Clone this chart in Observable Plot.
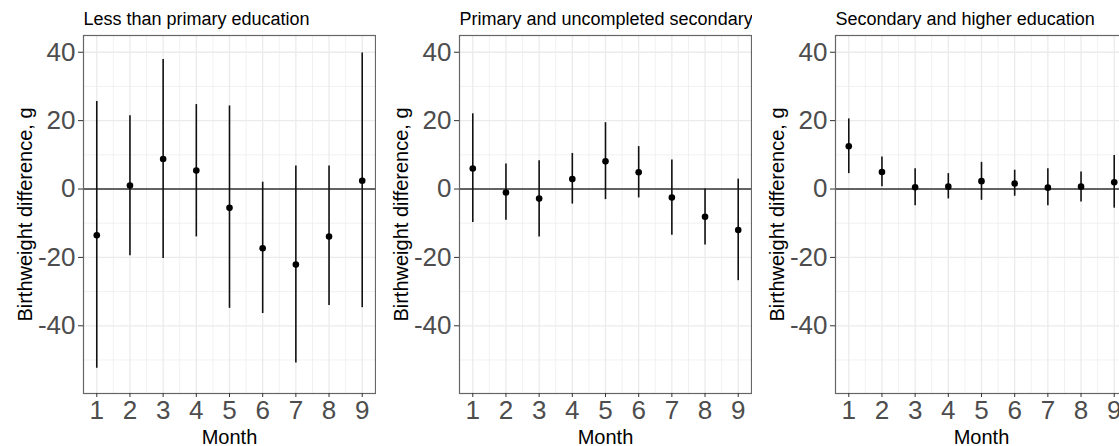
<!DOCTYPE html>
<html><head><meta charset="utf-8">
<script src="https://cdn.jsdelivr.net/npm/d3@7"></script>
<script src="https://cdn.jsdelivr.net/npm/@observablehq/plot@0.6"></script>
<style>
html,body{margin:0;padding:0;overflow:hidden;background:#fff;}
#row{display:flex;width:1128px;}
#row svg{overflow:visible;flex:none;}
</style></head><body><div id="row"></div>
<script>
const months = [1, 2, 3, 4, 5, 6, 7, 8, 9];
const panelTitles = ["Less than primary education", "Primary and uncompleted secondary", "Secondary and higher education"];

const estLess  = [-13.5, 1.0, 8.8, 5.4, -5.5, -17.3, -22.1, -13.9, 2.4];
const lowLess  = [-52.4, -19.5, -20.3, -14.0, -34.9, -36.4, -50.9, -34.1, -34.7];
const highLess = [25.6, 21.4, 37.9, 24.7, 24.3, 2.0, 6.7, 6.7, 39.8];

const estPrim  = [6.0, -1.0, -2.8, 2.9, 8.1, 4.9, -2.5, -8.1, -12.0];
const lowPrim  = [-9.8, -9.1, -14.0, -4.4, -3.1, -2.6, -13.5, -16.4, -26.8];
const highPrim = [22.0, 7.3, 8.3, 10.4, 19.4, 12.4, 8.5, 0.0, 2.9];

const estSec   = [12.5, 5.0, 0.5, 0.7, 2.3, 1.6, 0.4, 0.7, 2.0];
const lowSec   = [4.5, 0.7, -4.9, -2.9, -3.3, -2.1, -4.9, -3.8, -5.6];
const highSec  = [20.5, 9.4, 5.9, 4.5, 7.8, 5.5, 5.9, 5.0, 9.8];

const yMajorTicks = [-40, -20, 0, 20, 40];
const yMinorTicks = [-50, -30, -10, 10, 30];
const xMajorTicks = months;
const xMinorTicks = [1.5, 2.5, 3.5, 4.5, 5.5, 6.5, 7.5, 8.5];
const yLabel = "Birthweight difference, g";
const xLabel = "Month";

const series = [
  [estLess, lowLess, highLess],
  [estPrim, lowPrim, highPrim],
  [estSec, lowSec, highSec]
];

const row = document.getElementById("row");
series.forEach(([est, lo, hi], i) => {
  const data = months.map((m, j) => ({month: m, est: est[j], lo: lo[j], hi: hi[j]}));
  const chart = Plot.plot({
    width: 376,
    height: 446,
    marginLeft: 83,
    marginRight: 1,
    marginTop: 35,
    marginBottom: 53,
    style: {fontFamily: "'Liberation Sans', Arial, sans-serif", background: "white", overflow: "visible"},
    x: {domain: [0.6, 9.4], axis: null},
    y: {domain: [-59.8, 44.9], axis: null},
    marks: [
      Plot.ruleX(xMinorTicks, {stroke: "#ebebeb", strokeWidth: 0.7}),
      Plot.ruleY(yMinorTicks, {stroke: "#ebebeb", strokeWidth: 0.7}),
      Plot.ruleX(xMajorTicks, {stroke: "#ebebeb", strokeWidth: 1.3}),
      Plot.ruleY(yMajorTicks, {stroke: "#ebebeb", strokeWidth: 1.3}),
      Plot.ruleY([0], {stroke: "#333", strokeWidth: 1.4}),
      Plot.ruleX(data, {x: "month", y1: "lo", y2: "hi", stroke: "#111", strokeWidth: 1.6}),
      Plot.dot(data, {x: "month", y: "est", r: 3.3, fill: "#000", stroke: "none"}),
      Plot.frame({stroke: "#666", strokeWidth: 1.2}),
      Plot.axisY(yMajorTicks, {tickSize: 5, tickPadding: 3, fontSize: 26, fill: "#4d4d4d", stroke: "#333", label: null, tickFormat: d => d}),
      Plot.axisX(xMajorTicks, {tickSize: 4, tickPadding: 3, fontSize: 26, fill: "#4d4d4d", stroke: "#333", label: null, tickFormat: d => d}),
      Plot.text([yLabel], {frameAnchor: "left", textAnchor: "middle", lineAnchor: "middle", dx: -58, rotate: -90, fontSize: 20, fill: "#000", text: d => d}),
      Plot.text([xLabel], {frameAnchor: "bottom", textAnchor: "middle", lineAnchor: "middle", dy: 44, fontSize: 20, fill: "#000", text: d => d}),
      Plot.text([panelTitles[i]], {frameAnchor: "top-left", textAnchor: "start", lineAnchor: "middle", dy: -16, fontSize: 18, fill: "#000", text: d => d})
    ]
  });
  row.appendChild(chart);
});
</script></body></html>
